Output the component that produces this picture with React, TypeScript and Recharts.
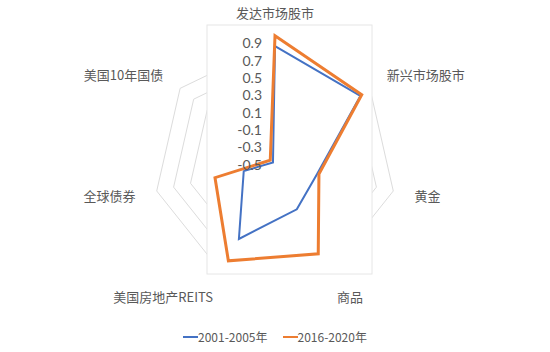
import { Legend, PolarAngleAxis, PolarGrid, PolarRadiusAxis, Radar, RadarChart } from 'recharts'

const categories = ['发达市场股市', '新兴市场股市', '黄金', '商品', '美国房地产REITS', '全球债券', '美国10年国债']
const series2001 = [0.86, 0.76, 0.0, 0.08, 0.46, -0.13, -0.47]
const series2016 = [0.98, 0.78, 0.02, 0.65, 0.74, 0.21, -0.43]
const radiusTicks = [-0.5, -0.3, -0.1, 0.1, 0.3, 0.5, 0.7, 0.9]
const seriesNames = ['2001-2005年', '2016-2020年']

const data = categories.map((name, i) => ({
  name,
  a: series2001[i],
  b: series2016[i],
}))

const CX = 275
const CY = 164
const OUTER = 130
const LABEL_R = 143
const FONT = '"Noto Sans CJK SC", "Noto Sans", sans-serif'
const TEXT = '#595959'

const AngleTick = (props: any) => {
  const angle = props.payload.coordinate
  const rad = (-angle * Math.PI) / 180
  const x = CX + LABEL_R * Math.cos(rad)
  const y = CY + LABEL_R * Math.sin(rad)
  const c = Math.cos(rad)
  const anchor = c > 0.1 ? 'start' : c < -0.1 ? 'end' : 'middle'
  let dy = 0
  if (y < CY - 120) dy = -9
  else if (y > CY + 100) dy = 4
  return (
    <text x={x} y={y + dy} textAnchor={anchor} dominantBaseline="central" fontSize={13} fill={TEXT} fontFamily={FONT}>
      {props.payload.value}
    </text>
  )
}

// radius labels sit to the left of the vertical axis, like Excel does it
const RadiusTick = (props: any) => {
  const { x, y, payload } = props
  return (
    <text x={x - 13} y={y} textAnchor="end" dominantBaseline="central" fontSize={14} fill={TEXT} fontFamily="Lato, sans-serif">
      {payload.value}
    </text>
  )
}

const LegendContent = (props: any) => {
  const items = props.payload || []
  return (
    <div style={{ display: 'flex', justifyContent: 'center', gap: 15, fontFamily: FONT, fontSize: 12, color: TEXT }}>
      {items.map((it: any) => (
        <div key={it.value} style={{ display: 'flex', alignItems: 'center' }}>
          <span style={{ display: 'inline-block', width: 15, height: 2, background: it.color }} />
          <span>{it.value}</span>
        </div>
      ))}
    </div>
  )
}

const App = () => {
  return (
    <div style={{ position: 'absolute', left: 0, top: 0, background: '#fff' }}>
      <RadarChart width={550} height={352} data={data} cx={CX} cy={CY} outerRadius={OUTER} margin={{ top: 0, right: 0, bottom: 0, left: 0 }}>
        <PolarGrid gridType="polygon" radialLines={false} stroke="#dcdcdc" />
        <rect x={207} y={25} width={165} height={249} fill="#fff" stroke="#e6e6e6" />
        <PolarAngleAxis dataKey="name" tick={AngleTick} tickLine={false} axisLine={false} />
        <PolarRadiusAxis
          angle={90}
          domain={[-0.5, 0.9]}
          ticks={radiusTicks}
          allowDataOverflow
          axisLine={false}
          tickLine={false}
          tick={RadiusTick}
        />
        <Radar name={seriesNames[0]} dataKey="a" stroke="#4472C4" strokeWidth={2} fill="none" fillOpacity={0} dot={false} isAnimationActive={false} />
        <Radar name={seriesNames[1]} dataKey="b" stroke="#ED7D31" strokeWidth={3} fill="none" fillOpacity={0} dot={false} isAnimationActive={false} />
        <Legend content={LegendContent} wrapperStyle={{ position: 'absolute', top: 328, left: 0, width: 550 }} />
      </RadarChart>
    </div>
  )
}

export default App
